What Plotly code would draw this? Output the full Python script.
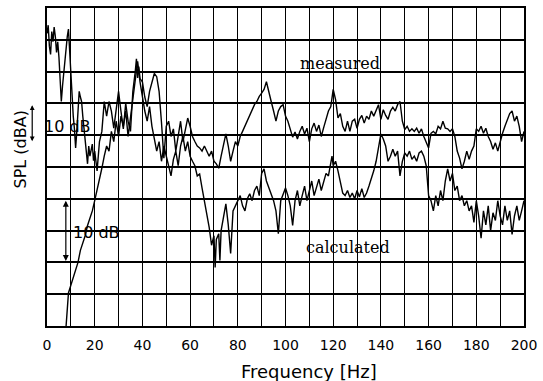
import plotly.graph_objects as go

# Frequency (Hz) and SPL (relative dBA)
meas_f = [0, 0.5, 1, 1.5, 2, 2.5, 3, 3.5, 4, 4.5, 5, 5.5, 6, 6.5, 7, 7.5, 8, 8.5, 9, 9.5,
          10, 10.5, 11, 11.5, 12, 12.5, 13, 13.5, 14, 14.5, 15, 16, 16.5, 17, 17.5, 18, 19, 19.5, 20,
          21, 22, 23, 24, 25, 26, 27, 28, 29, 30, 31, 32, 33, 34, 35, 36, 37, 37.5, 38, 38.5, 39,
          40, 41, 42, 43, 44, 45, 46, 47, 48, 49, 50, 51, 52, 53, 54, 55, 56, 57, 58, 59,
          60, 61, 62, 63, 64, 65, 66, 67, 68, 69, 70, 71, 72, 73, 74, 75, 76, 77, 78, 79,
          80, 81, 82, 83, 84, 85, 86, 87, 88, 89, 90, 91, 92, 93, 94, 95, 96, 97, 98, 99,
          100, 101, 102, 103, 104, 105, 106, 107, 108, 109, 110, 111, 112, 113, 114, 115, 116, 117, 118, 119,
          120, 121, 122, 123, 124, 125, 126, 127, 128, 129, 130, 131, 132, 133, 134, 135, 136, 137, 138, 139,
          140, 141, 142, 143, 144, 145, 146, 147, 148, 149, 150, 151, 152, 153, 154, 155, 156, 157, 158, 159,
          160, 161, 162, 163, 164, 165, 166, 167, 168, 169, 170, 171, 172, 173, 174, 175, 176, 177, 178, 179,
          180, 181, 182, 183, 184, 185, 186, 187, 188, 189, 190, 191, 192, 193, 194, 195, 196, 197, 198, 199, 200]
meas_db = [46, 47.3, 44, 42.7, 46.3, 44.7, 47, 45.5, 43, 44.7, 42.3, 39, 35.3, 37.7, 40, 41.6, 44, 45.5, 46.7, 43,
           39, 35.8, 33, 31, 28, 30.6, 33.8, 36.9, 36, 35.3, 33, 29.5, 27.5, 25.5, 28.3, 26.7, 28.6, 26, 27.5,
           24.4, 29, 30.6, 35.3, 33, 35.3, 33.8, 31.1, 34.5, 36.9, 33.8, 31, 35, 32.2, 30.6, 36.9, 40, 42, 39, 40.8, 38.9,
           38.4, 36, 34.5, 36.9, 38.4, 39.7, 39.2, 36.9, 32, 26.4, 31.4, 32.2, 29.8, 31, 27.5, 29.8, 32.2, 29, 30.6, 32.7,
           31.4, 29.8, 29, 28.3, 28, 27.5, 28.3, 27.5, 26.7, 27.5, 25.9, 25.5, 24.8, 26.7, 28.3, 30.2, 28.3, 25.9, 27.5, 29,
           28.3, 29.8, 30.6, 31.4, 32.2, 33, 34, 34.8, 35.3, 36.1, 36.6, 37.2, 38.4, 36.6, 35.3, 33.8, 32.2, 33.8, 34.5, 34.8,
           33, 32.2, 31, 29.7, 30.5, 29.4, 30.6, 31.4, 30.2, 31.1, 29, 31, 31.9, 30.6, 31.6, 29.8, 31.2, 32.5, 33.8, 34.5,
           37.2, 35.6, 32.7, 33.4, 31.4, 30.6, 32.2, 30.6, 32.2, 32.5, 31.1, 32.5, 33.1, 31.9, 33, 32.5, 33.8, 33, 34, 34.8,
           32.5, 34, 33.1, 32.5, 33.8, 34.4, 33.8, 34.8, 35.3, 32.2, 30.9, 31.4, 30.6, 31, 30.6, 31.1, 30.3, 31, 29.8, 29,
           28, 30.3, 30.6, 30.2, 31.4, 31, 32.2, 31.1, 31, 30.6, 31, 29.8, 27.5, 26.4, 24.7, 25.9, 27.5, 26.2, 27.5, 28.3,
           31, 30.6, 31.4, 30.3, 31.1, 29.8, 29, 27.8, 28.8, 27.5, 29, 30.3, 31.4, 32.5, 33.4, 33.8, 32.2, 33, 31.4, 29, 30.6]

calc_f = [8, 8.5, 9, 10, 11, 12, 13, 14, 15, 16, 17, 18, 19,
          20, 21, 22, 23, 24, 25, 26, 27, 28, 29, 30, 31, 32, 33, 34, 35, 36, 37, 38, 39,
          40, 41, 42, 43, 44, 45, 46, 47, 48, 49, 50, 51, 52, 53, 54, 55, 56, 57, 58, 59,
          60, 61, 62, 63, 64, 65, 66, 67, 68, 69, 70, 70.5, 71, 72, 72.5, 73, 74, 75, 76, 77, 78, 79,
          80, 81, 82, 83, 84, 85, 86, 87, 88, 89, 90, 91, 92, 93, 94, 95, 96, 97, 98, 99,
          100, 101, 102, 103, 104, 105, 106, 107, 108, 109, 110, 111, 112, 113, 114, 115, 116, 117, 118, 119, 119.5,
          120, 121, 122, 123, 124, 125, 126, 127, 128, 129, 130, 131, 132, 133, 134, 135, 136, 137, 138, 139,
          140, 141, 142, 143, 144, 145, 146, 147, 148, 149, 150, 151, 152, 153, 154, 155, 156, 157, 158, 159,
          160, 161, 162, 163, 164, 165, 166, 167, 168, 169, 170, 171, 172, 173, 174, 175, 176, 177, 178, 179,
          180, 181, 182, 183, 184, 185, 186, 187, 188, 189, 190, 191, 192, 193, 194, 195, 196, 197, 198, 199, 200]
calc_db = [0, 3.3, 5.2, 6.4, 7.7, 8.8, 10, 11.9, 13, 14.2, 15.8, 16.9, 18.1,
           19.7, 21.3, 23.3, 24.8, 26.7, 28.3, 27.5, 30.6, 29, 32.2, 29.8, 33, 31.4, 33.8, 29.8, 33, 35.3, 39.2, 41.6, 38.4,
           36, 33.8, 32.2, 34.5, 31.4, 29.1, 27.5, 29, 25.9, 28.3, 26.7, 25.2, 23.6, 26.2, 27.5, 25.2, 28.3, 29.8, 27.5, 29,
           26.7, 25.9, 25.2, 23.6, 23.9, 21.7, 19.7, 17.3, 15.5, 12.7, 14.2, 9.2, 13.6, 14.5, 10.3, 15, 17.3, 19.2, 15.9, 11.4, 18.1, 18.9,
           19.7, 20.5, 18.9, 18.1, 20, 20.8, 19.7, 21.3, 22, 20.5, 24, 24.7, 22.8, 21.7, 20.5, 19.7, 18.1, 14.5, 19.7, 20.8,
           21.7, 20.5, 18.9, 15.8, 19.7, 21.3, 18.9, 20.5, 22, 19.7, 21.3, 22.8, 20.5, 22, 23.1, 21.3, 22.8, 24, 23.6, 25.9, 26.7,
           25.2, 25.9, 24.4, 22.8, 20.9, 20.5, 21.3, 20.2, 20.9, 20, 21.3, 20.3, 21.6, 20.2, 20.9, 22, 23.1, 24.4, 25.9, 28.3,
           30.2, 29.4, 28.3, 25.9, 26.7, 27.8, 26.7, 27.5, 23.6, 25.9, 27.2, 26.7, 27.5, 26.2, 26.7, 25.9, 27.2, 27.5, 26.7, 25.2,
           20.5, 19.7, 18.1, 20.5, 18.9, 21.3, 19.7, 22.8, 24.7, 22.8, 24, 21.3, 22, 19.7, 20.5, 18.9, 19.7, 18.1, 18.9, 16.3,
           19.7, 17.3, 13.8, 18.1, 15.9, 18.9, 15, 17.8, 16.6, 19.7, 17.3, 15.9, 18.9, 16.6, 18.1, 14.4, 17.3, 18.9, 16.6, 18.1, 19.7]

x_ticks = [0, 20, 40, 60, 80, 100, 120, 140, 160, 180, 200]

fig = go.Figure()
fig.add_trace(go.Scatter(x=meas_f, y=meas_db, mode="lines", name="measured",
                         line=dict(color="black", width=1.4)))
fig.add_trace(go.Scatter(x=calc_f, y=calc_db, mode="lines", name="calculated",
                         line=dict(color="black", width=1.4)))

serif = dict(family="DejaVu Serif, serif", size=16, color="black")
sans = dict(family="DejaVu Sans, sans-serif", size=16, color="black")

fig.add_annotation(x=123, y=41.3, text="measured", showarrow=False, font=serif)
fig.add_annotation(x=126, y=12.3, text="calculated", showarrow=False, font=serif)

# lower 10 dB scale arrow
fig.add_annotation(x=7.9, y=19.7, ax=7.9, ay=10, xref="x", yref="y", axref="x", ayref="y",
                   text="", showarrow=True, arrowhead=2, arrowside="end+start",
                   arrowsize=1, arrowwidth=1.2, arrowcolor="black")
fig.add_annotation(x=20.6, y=14.7, text="10 dB", showarrow=False, font=sans)

# upper 10 dB scale arrow (near axis title)
fig.add_annotation(x=-0.031, y=34.7, ax=-0.031, ay=28.8, xref="x domain", yref="y",
                   axref="x domain", ayref="y", text="", showarrow=True, arrowhead=2,
                   arrowside="end+start", arrowsize=0.8, arrowwidth=1.2, arrowcolor="black")
fig.add_annotation(x=-0.0104, y=31.4, xref="x domain", yref="y", text="10 dB",
                   showarrow=False, font=sans, xanchor="left")

# axis titles
fig.add_annotation(x=-0.056, y=0.556, xref="paper", yref="paper", text="SPL (dBA)",
                   textangle=-90, showarrow=False, xanchor="center", yanchor="middle",
                   font=dict(family="DejaVu Sans, sans-serif", size=16, color="black"))
fig.add_annotation(x=0.55, y=-0.144, xref="paper", yref="paper", text="Frequency [Hz]",
                   showarrow=False, xanchor="center", yanchor="middle",
                   font=dict(family="DejaVu Sans, sans-serif", size=18, color="black"))

fig.update_layout(
    width=543, height=381,
    margin=dict(l=47, r=16, t=6, b=55),
    paper_bgcolor="white", plot_bgcolor="white",
    showlegend=False,
    xaxis=dict(range=[0, 200], tickvals=x_ticks, ticks="", showgrid=True,
               gridcolor="black", gridwidth=1,
               minor=dict(dtick=10, showgrid=True, gridcolor="black", gridwidth=1),
               showline=True, linecolor="black", linewidth=2, mirror=True,
               tickfont=dict(family="DejaVu Sans, sans-serif", size=14, color="black"),
               ticklabelstandoff=5,
               zeroline=False),
    yaxis=dict(range=[0, 50], dtick=5, showticklabels=False, ticks="",
               showgrid=True, gridcolor="black", gridwidth=2,
               showline=True, linecolor="black", linewidth=2, mirror=True,
               zeroline=False),
)

fig.write_html("out.html")
